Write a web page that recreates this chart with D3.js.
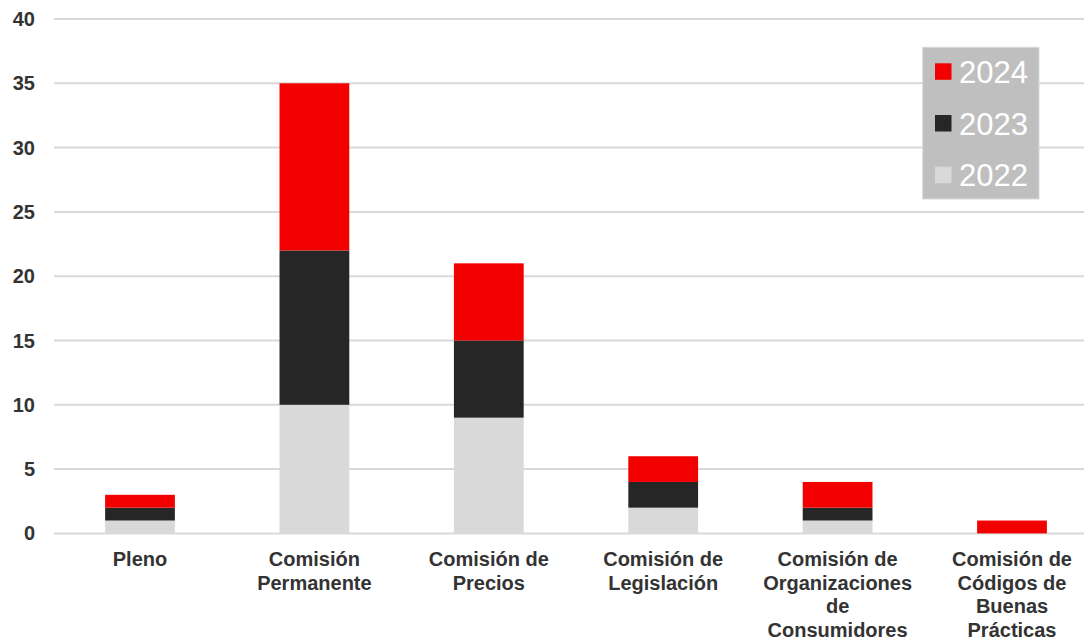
<!DOCTYPE html>
<html>
<head>
<meta charset="utf-8">
<script src="https://cdn.jsdelivr.net/npm/d3@7"></script>
<style>
  body { margin: 0; background: #fff; }
  text { font-family: "Liberation Sans", Arial, sans-serif; }
</style>
</head>
<body>
<div id="chart"></div>
<script>
// data
var categories = ["Pleno", "Comisión Permanente", "Comisión de Precios", "Comisión de Legislación",
  "Comisión de Organizaciones de Consumidores", "Comisión de Códigos de Buenas Prácticas"];
var years = ["2022", "2023", "2024"];
var v2022 = [1, 10, 9, 2, 1, 0];
var v2023 = [1, 12, 6, 2, 1, 0];
var v2024 = [1, 13, 6, 2, 2, 1];
var yTicks = [0, 5, 10, 15, 20, 25, 30, 35, 40];
var colors = { "2022": "#d9d9d9", "2023": "#262626", "2024": "#f20000" };

var width = 1084, height = 642;

var rows = categories.map(function(c, i) {
  return { cat: c, "2022": v2022[i], "2023": v2023[i], "2024": v2024[i] };
});

var svg = d3.select("#chart").append("svg")
  .attr("width", width)
  .attr("height", height);

var x = d3.scaleBand()
  .domain(categories)
  .range([52.8, 1099.2])
  .paddingInner(0.6)
  .paddingOuter(0.3);

var y = d3.scaleLinear()
  .domain([0, 40])
  .range([533.4, 19]);

// grid
svg.append("g").selectAll("line")
  .data(yTicks)
  .enter().append("line")
  .attr("x1", 54).attr("x2", 1099)
  .attr("y1", d => y(d)).attr("y2", d => y(d))
  .attr("stroke", "#d9d9d9")
  .attr("stroke-width", 2);

// y tick labels
svg.append("g").selectAll("text")
  .data(yTicks)
  .enter().append("text")
  .attr("x", 35)
  .attr("y", d => y(d))
  .attr("dy", "0.35em")
  .attr("text-anchor", "end")
  .attr("fill", "#333")
  .style("font-size", "20px")
  .style("font-weight", "bold")
  .text(d => d);

// stacked bars
var stack = d3.stack().keys(years)(rows);

svg.append("g").selectAll("g")
  .data(stack)
  .enter().append("g")
  .attr("fill", d => colors[d.key])
  .selectAll("rect")
  .data(d => d)
  .enter().append("rect")
  .attr("x", d => x(d.data.cat))
  .attr("width", x.bandwidth())
  .attr("y", d => y(d[1]))
  .attr("height", d => y(d[0]) - y(d[1]));

// category labels, wrapped
var labels = svg.append("g").selectAll("text")
  .data(categories)
  .enter().append("text")
  .attr("x", d => x(d) + x.bandwidth() / 2)
  .attr("y", 566)
  .attr("text-anchor", "middle")
  .attr("fill", "#333")
  .style("font-size", "20px")
  .style("font-weight", "bold");

labels.each(function(d) {
  var t = d3.select(this);
  var cx = +t.attr("x");
  var words = d.split(" ");
  var line = [];
  var tspan = t.append("tspan").attr("x", cx).attr("dy", 0);
  words.forEach(function(w) {
    line.push(w);
    tspan.text(line.join(" "));
    if (tspan.node().getComputedTextLength() > 140 && line.length > 1) {
      line.pop();
      tspan.text(line.join(" "));
      line = [w];
      tspan = t.append("tspan").attr("x", cx).attr("dy", 23.5).text(w);
    }
  });
});

// legend
var legend = svg.append("g").attr("transform", "translate(922.7,47.3)");
legend.append("rect")
  .attr("width", 116.3).attr("height", 151.7)
  .attr("fill", "#bfbfbf")
  .attr("stroke", "#d9d9d9")
  .attr("stroke-width", 1);

var items = legend.selectAll("g.item")
  .data(years.slice().reverse())
  .enter().append("g")
  .attr("class", "item")
  .attr("transform", (d, i) => "translate(12.3," + (16 + i * 51.7) + ")");

items.append("rect")
  .attr("width", 16.5).attr("height", 16.5)
  .attr("fill", d => colors[d]);

items.append("text")
  .attr("x", 24)
  .attr("y", 19.5)
  .attr("fill", "#fff")
  .style("font-size", "31px")
  .text(d => d);
</script>
</body>
</html>
